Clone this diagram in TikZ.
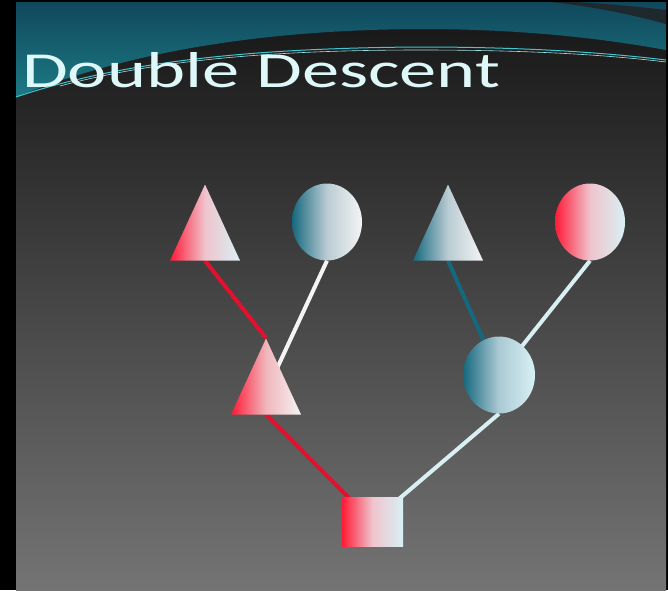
\documentclass[tikz,border=0pt]{standalone}
\usepackage{fontspec}
\setmainfont{Carlito}
\usetikzlibrary{shapes.geometric}
\pgfdeclarelayer{back}
\pgfdeclarelayer{background}
\pgfsetlayers{back,background,main}
\definecolor{tealdk}{RGB}{22,104,126}
\definecolor{redpk}{RGB}{255,26,54}
\definecolor{redln}{RGB}{228,16,45}
\definecolor{icecyan}{RGB}{216,240,244}
\definecolor{snow}{RGB}{244,244,244}
\definecolor{titlecol}{RGB}{222,247,249}
\definecolor{tealtop}{RGB}{16,72,92}
\definecolor{tealbot}{RGB}{28,122,132}
\definecolor{accent}{RGB}{60,200,210}
\definecolor{slidetop}{RGB}{21,21,21}
\definecolor{slidebot}{RGB}{116,116,116}
\definecolor{swoosh}{RGB}{30,40,45}
\definecolor{midredice}{RGB}{240,196,205}
\definecolor{midredsnow}{RGB}{240,182,188}
\definecolor{midtealsnow}{RGB}{186,204,212}
\definecolor{midtealice}{RGB}{172,202,212}
\tikzset{
	tri/.style={isosceles triangle,shape border rotate=90,isosceles triangle stretches,
		minimum width=70pt,minimum height=76pt,inner sep=0pt,anchor=apex},
	ell/.style={ellipse,minimum width=70pt,minimum height=77pt,inner sep=0pt},
	redice/.style={left color=redpk,right color=icecyan,middle color=midredice},
	redsnow/.style={left color=redpk,right color=snow,middle color=midredsnow},
	tealsnow/.style={left color=tealdk,right color=snow,middle color=midtealsnow},
	tealice/.style={left color=tealdk,right color=icecyan,middle color=midtealice},
	link/.style={line width=4pt}
}
\begin{document}
\begin{tikzpicture}[x=1pt,y=-1pt,line join=round,line cap=round]
	\useasboundingbox (0,0) rectangle (668,590);
	\begin{pgfonlayer}{back}
		% slide and header band
		\fill[black] (0,0) rectangle (668,590);
		\shade[top color=slidetop,bottom color=slidebot] (16,2) rectangle (666,590);
		\shade[top color=tealtop,bottom color=tealbot] (16,2) -- (666,2) -- (666,50)
			.. controls (600,38) and (520,29) .. (420,29)
			.. controls (250,30) and (120,55) .. (16,97) -- cycle;
		\fill[swoosh] (575,2) .. controls (610,4) and (640,7) .. (666,10)
			-- (666,24) .. controls (630,14) and (590,6) .. (550,2) -- cycle;
		\draw[accent,line width=1pt] (16,97) .. controls (120,62) and (250,48) .. (420,47)
			.. controls (520,47) and (600,52) .. (666,60);
		\draw[accent!50!white,line width=0.6pt] (60,86) .. controls (150,62) and (260,50) .. (420,50)
			.. controls (520,50) and (600,54) .. (666,62);
	\end{pgfonlayer}
	\node[anchor=base west,text=titlecol,inner sep=0pt] (title) at (22,87) {\resizebox{478pt}{35pt}{Double Descent}};
	% pedigree
	\node[tri,redice] (t1) at (205,184) {};
	\node[ell,tealsnow] (c2) at (327,222) {};
	\node[tri,tealsnow] (t3) at (448,184) {};
	\node[ell,redice] (c4) at (590,222) {};
	\node[tri,redsnow] (t5) at (266,338) {};
	\node[ell,tealice,minimum width=72pt] (c6) at (499,375) {};
	\node[redice,minimum width=61pt,minimum height=49pt,inner sep=0pt] (sq) at (372.5,521.5) {};
	\begin{pgfonlayer}{background}
		\foreach \a/\b/\c in {t1.south/t5.apex/redln,t5.south/sq.center/redln,c2.south/t5.center/snow,
			t3.south/c6.center/tealdk,c4.south/c6.center/icecyan,c6.south/sq.center/icecyan}{\draw[link,\c] (\a)--(\b);}
	\end{pgfonlayer}
\end{tikzpicture}
\end{document}
